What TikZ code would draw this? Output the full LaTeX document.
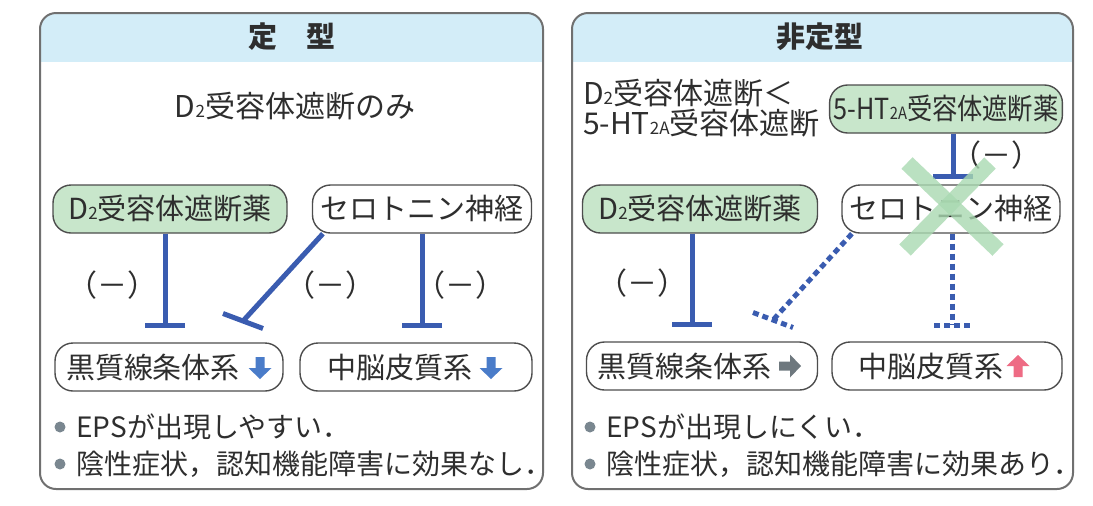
\documentclass[tikz,border=0pt]{standalone}
\usepackage{fontspec}
\usepackage{graphicx}
\setmainfont{Noto Sans CJK JP}
\usetikzlibrary{arrows.meta,calc}
\definecolor{headfill}{HTML}{D3EDF8}
\definecolor{drugfill}{HTML}{C8E6CB}
\definecolor{inhblue}{HTML}{3A5CB0}
\definecolor{arrblue}{HTML}{4A7CC9}
\definecolor{arrpink}{HTML}{EE6B84}
\definecolor{arrgray}{HTML}{6E787E}
\definecolor{panelgray}{HTML}{707070}
\definecolor{boxgray}{HTML}{4D4D4D}
\definecolor{bulletgray}{HTML}{7A8790}
\definecolor{crossgreen}{HTML}{A9D9B1}
\definecolor{darktxt}{HTML}{2E2E2E}
\newcommand{\subtx}[1]{{\fontsize{8.5pt}{8.5pt}\selectfont #1}}

\begin{document}
\begin{tikzpicture}[x=0.5pt, y=-0.5pt]
      % Define styles
      \tikzset{
        every node/.append style={text=darktxt},
        panel/.style={draw=panelgray, line width=1pt, rounded corners=8pt},
        header/.style={font=\fontsize{14.5pt}{14.5pt}\selectfont\bfseries},
        subtitle/.style={font=\fontsize{15pt}{13.5pt}\selectfont},
        drug/.style={draw=boxgray, line width=0.7pt, rounded corners=9pt, fill=drugfill, minimum height=24pt, inner sep=2pt, font=\fontsize{14.5pt}{16pt}\selectfont},
        target/.style={drug, fill=white},
        inhibit/.style={inhblue, line width=2.5pt},
        inhibitdot/.style={inhibit, dash pattern=on 3pt off 2pt},
        minus/.style={font=\fontsize{15pt}{15pt}\selectfont},
        bullettext/.style={anchor=west, inner sep=0pt, font=\fontsize{14pt}{14pt}\selectfont},
        bulletdot/.style={circle, fill=bulletgray, inner sep=0pt, minimum size=5.5pt},
        crossmark/.style={crossgreen, line width=8pt, opacity=0.8},
        blockarrow/.pic={\fill (-4.5,-11) -- (4.5,-11) -- (4.5,0) -- (11.5,0) -- (0,11) -- (-11.5,0) -- (-4.5,0) -- cycle;}
      }
      \useasboundingbox (0,0) rectangle (1093,505);
      % Panels with header bands
      \begin{scope}
        \clip[rounded corners=8pt] (40,13) rectangle (543,489);
        \fill[headfill] (40,13) rectangle (543,62);
      \end{scope}
      \begin{scope}
        \clip[rounded corners=8pt] (572,13) rectangle (1073,489);
        \fill[headfill] (572,13) rectangle (1073,62);
      \end{scope}
      \draw[panel] (40,13) rectangle (543,489);
      \draw[panel] (572,13) rectangle (1073,489);
      \node[header] (hdL) at (292,37) {定　型};
      \node[header] (hdR) at (820,37) {非定型};

      % Typical (left)
      \node[subtitle] (stL) at (295,106) {D\subtx{2}受容体遮断のみ};
      \node[drug, minimum width=117pt] (d2L) at (170,209) {D\subtx{2}受容体遮断薬};
      \node[target, minimum width=109.5pt] (seL) at (422,209) {セロトニン神経};
      \node[target, minimum width=114pt] (nsL) at (169,367) {黒質線条体系\hspace*{16pt}};
      \node[target, minimum width=116pt] (mcL) at (416,367) {中脳皮質系\hspace*{16pt}};
      \pic[fill=arrblue] at (260,368) {blockarrow};
      \pic[fill=arrblue] at (491,368) {blockarrow};
      \coordinate (tL1) at (165,328);
      \coordinate (tL2) at (243,321);
      \coordinate (tL3) at (422,328);
      \draw[inhibit, -{Bar[width=20pt]}] (d2L.south -| tL1) -- (tL1);
      \draw[inhibit] (seL.-166) -- (tL2);
      \draw[inhibit] ($(tL2)+(-20,-7.5)$) -- ($(tL2)+(20,7.5)$);
      \draw[inhibit, -{Bar[width=20pt]}] (seL.south -| tL3) -- (tL3);
      \node[minus] (mL1) at (112,285) {（－）};
      \node[minus] (mL2) at (330,285) {（－）};
      \node[minus] (mL3) at (460,285) {（－）};
      \node[bulletdot] (bL1) at (60,427) {};
      \node[bullettext] (tb1) at (76,427) {EPSが出現しやすい．};
      \node[bulletdot] (bL2) at (60,464) {};
      \node[bullettext] (tb2) at (76,464) {陰性症状，認知機能障害に効果なし．};

      % Atypical (right)
      \node[subtitle, anchor=west, align=left] (stR) at (576,108) {D\subtx{2}受容体遮断＜\\5-HT\subtx{2A}受容体遮断};
      \node[drug, minimum width=111pt] (htR) at (946,109) {\scalebox{0.87}[1]{5-HT\subtx{2A}受容体遮断薬}};
      \node[drug, minimum width=117.5pt] (d2R) at (700,209) {D\subtx{2}受容体遮断薬};
      \node[target, minimum width=109pt] (seR) at (951,209) {セロトニン神経};
      \node[target, minimum width=115.5pt] (nsR) at (702,366) {黒質線条体系\hspace*{18pt}};
      \node[target, minimum width=115pt] (mcR) at (947,366) {中脳皮質系\hspace*{16pt}};
      \pic[fill=arrgray, rotate=90] at (790,366) {blockarrow};
      \pic[fill=arrpink, rotate=180] at (1018,366) {blockarrow};
      \coordinate (tR0) at (953,179);
      \coordinate (tR1) at (692,327);
      \coordinate (tR2) at (773,320);
      \coordinate (tR3) at (952,325);
      \draw[inhibit, -{Bar[width=20pt]}] (htR.south -| tR0) -- (tR0);
      \draw[inhibit, -{Bar[width=20pt]}] (d2R.south -| tR1) -- (tR1);
      \draw[inhibitdot] (seR.-166) -- (tR2);
      \draw[inhibitdot] ($(tR2)+(-20,-7.5)$) -- ($(tR2)+(20,7.5)$);
      \draw[inhibitdot] (seR.south -| tR3) -- (tR3);
      \draw[inhibitdot] ($(tR3)+(-18,0)$) -- ($(tR3)+(18,0)$);
      \node[minus] (mR1) at (642,283) {（－）};
      \node[minus] (mR0) at (996,155) {（－）};
      % Cross over the serotonin pathway
      \draw[crossmark] (907,163) -- (998,250);
      \draw[crossmark] (990,163) -- (905,250);
      \node[bulletdot] (bR1) at (590,427) {};
      \node[bullettext] (tb3) at (606,427) {EPSが出現しにくい．};
      \node[bulletdot] (bR2) at (590,464) {};
      \node[bullettext] (tb4) at (606,464) {陰性症状，認知機能障害に効果あり．};
    \end{tikzpicture}
\end{document}
